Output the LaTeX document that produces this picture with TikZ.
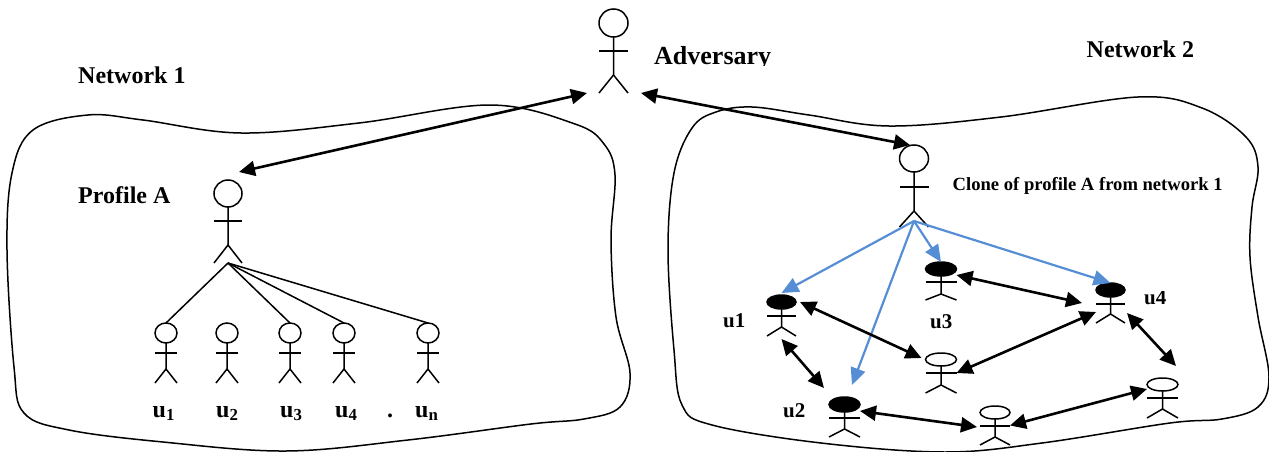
\documentclass[tikz,border=0pt]{standalone}
\usepackage{fontspec}
\setmainfont{Liberation Serif}
\usetikzlibrary{arrows.meta,calc,shapes.geometric}

\tikzset{
  manbox/.style={inner sep=0, outer sep=0},
  manline/.style={line width=1.5pt},
  openhead/.style={draw, ellipse, manline, inner sep=0, outer sep=0},
  fullhead/.style={openhead, fill=black},
  cloud/.style={line width=1.5pt},
  branch/.style={line width=1.5pt},
  linkboth/.style={line width=2.6pt, {Triangle[length=16pt,width=15pt]}-{Triangle[length=16pt,width=15pt]}},
  linkblue/.style={line width=2.2pt, color=cloneblue, -{Triangle[length=17pt,width=15pt]}},
  biglabel/.style={font=\fontsize{24}{28}\selectfont\bfseries, anchor=base west, inner sep=0},
  ulabel/.style={font=\fontsize{21}{25}\selectfont\bfseries, anchor=base west, inner sep=0},
  clonelabel/.style={font=\fontsize{18.6}{22}\selectfont\bfseries, anchor=base west, inner sep=0}
}
\definecolor{cloneblue}{HTML}{558ED5}

% [head style]{name}{centre x}{head top}{head bottom}{arm y}{hip y}{foot y}{half width}
\newcommand{\stickman}[9][openhead]{
  \node[manbox, minimum width={2*#9 pt}, minimum height={(#8-#4)*1pt}] (#2) at (#3, {(#4+#8)/2}) {};
  \node[#1, minimum width={2*#9 pt}, minimum height={(#5-#4)*1pt}] (#2head) at (#3, {(#4+#5)/2}) {};
  \draw[manline] (#2head.south) -- (#3, #7) -- (#3-#9, #8);
  \draw[manline] (#3, #7) -- (#3+#9, #8);
  \draw[manline] (#3-#9, #6) -- (#3+#9, #6);
}

\begin{document}
\begin{tikzpicture}[x=1pt, y=-1pt]
  \useasboundingbox (0, 0) rectangle (1269, 452);

  \draw[cloud] plot[smooth cycle, tension=0.6] coordinates {
    (88,115) (143,120) (241,133) (359,123) (490,105) (575,124) (604,144) (615,175)
    (611,240) (616,317) (630,373) (620,407) (584,419) (531,424) (408,440) (286,451)
    (163,442) (69,430) (24,413) (14,367) (7,250) (12,173) (33,130)};
  \draw[cloud] plot[smooth cycle, tension=0.6] coordinates {
    (752,107) (809,115) (889,126) (1001,117) (1138,97) (1202,108) (1246,137) (1258,167)
    (1252,207) (1250,257) (1258,317) (1269,377) (1258,407) (1222,419) (1170,423) (1042,443)
    (945,452) (821,443) (712,425) (682,405) (674,350) (668,250) (674,173) (692,128) (716,112)};

  \stickman{adv}{613.5}{9}{37}{51}{75}{93}{14.5}
  \stickman{profA}{228}{180}{207}{221}{245}{263}{14}
  \stickman{clone}{914}{145}{172}{187}{211}{227}{14.5}

  \stickman{user1}{166}{323}{343}{353}{369}{383}{11}
  \stickman{user2}{227}{323}{343}{353}{369}{383}{11}
  \stickman{user3}{290}{323}{343}{353}{369}{383}{11}
  \stickman{user4}{344}{323}{343}{353}{369}{383}{11}
  \stickman{usern}{428}{323}{343}{353}{369}{383}{11}

  \stickman[fullhead]{peer1}{781.5}{295}{309}{316}{327}{336}{14.5}
  \stickman[fullhead]{peer2}{844.5}{397}{412}{418}{429}{437}{15.5}
  \stickman[fullhead]{peer3}{941}{262}{276}{282}{294}{300}{15.5}
  \stickman[fullhead]{peer4}{1110.5}{283}{297}{304}{314}{323}{14.5}

  \stickman{plain1}{941}{353}{366}{373}{385}{393}{15.5}
  \stickman{plain2}{995}{406}{419}{426}{437}{445}{15}
  \stickman{plain3}{1162.5}{378}{391}{398}{409}{418}{15.5}

  \draw[branch] (profA.south) -- (user1.north);
  \draw[branch] (profA.south) -- (user3.north);
  \draw[branch] (profA.south) -- (user4.north);
  \draw[branch] (profA.south) -- (usern.north);

  \draw[linkboth] ([shift={(-12,0)}]adv.south west) -- ([shift={(11,-8)}]profA.north);
  \draw[linkboth] ([shift={(13,0)}]adv.south east) -- ([shift={(-4,0)}]clone.north);

  \draw[linkblue] ([shift={(0,-6)}]clone.south) -- ([shift={(0,-2)}]peer1.north);
  \draw[linkblue] ([shift={(0,-6)}]clone.south) -- ([shift={(7.5,-12)}]peer2.north);
  \draw[linkblue] ([shift={(0,-6)}]clone.south) -- (peer3.north);
  \draw[linkblue] ([shift={(0,-6)}]clone.south) -- (peer4.north);

  \draw[linkboth] ([shift={(0,-6)}]peer3.east) -- ([shift={(-14,0)}]peer4.west);
  \draw[linkboth] ([shift={(4,7)}]peer1.north east) -- ([shift={(-4,5)}]plain1.north west);
  \draw[linkboth] (plain1.east) -- ([shift={(0,9)}]peer4.west);
  \draw[linkboth] ([shift={(0,3)}]peer1.south) -- ([shift={(-5,-9)}]peer2.north west);
  \draw[linkboth] ([shift={(0,-6)}]peer2.east) -- ([shift={(-3,1.5)}]plain2.west);
  \draw[linkboth] (plain2.east) -- ([shift={(0,-9)}]plain3.west);
  \draw[linkboth] ([shift={(2,10)}]peer4.east) -- ([shift={(-2,-12)}]plain3.north east);

  \node[biglabel] (net1) at (78, 84) {Network 1};
  \node[biglabel] (net2) at (1086.5, 58) {Network 2};
  \node[biglabel] (prof) at (78, 203) {Profile A};
  \begin{scope}
    \clip (640, 30) rectangle (790, 66);
    \node[biglabel, font=\fontsize{26}{30}\selectfont\bfseries] (advlabel) at (654, 64) {Adversary};
  \end{scope}
  \node[clonelabel] (clonetext) at (952.5, 190) {Clone of profile A from network 1};

  \node[biglabel] (lab1) at (152.5, 417) {u\textsubscript{1}};
  \node[biglabel] (lab2) at (216, 417) {u\textsubscript{2}};
  \node[biglabel] (lab3) at (280, 417) {u\textsubscript{3}};
  \node[biglabel] (lab4) at (335, 417) {u\textsubscript{4}};
  \node[biglabel] (labdot) at (387, 417) {.};
  \node[biglabel] (labn) at (415, 417) {u\textsubscript{n}};

  \node[ulabel] (name1) at (723, 327) {u1};
  \node[ulabel] (name2) at (783, 417) {u2};
  \node[ulabel] (name3) at (930, 328) {u3};
  \begin{scope}
    \clip (1135, 291) rectangle (1180, 310);
    \node[ulabel] (name4) at (1144, 304) {u4};
  \end{scope}
\end{tikzpicture}
\end{document}
